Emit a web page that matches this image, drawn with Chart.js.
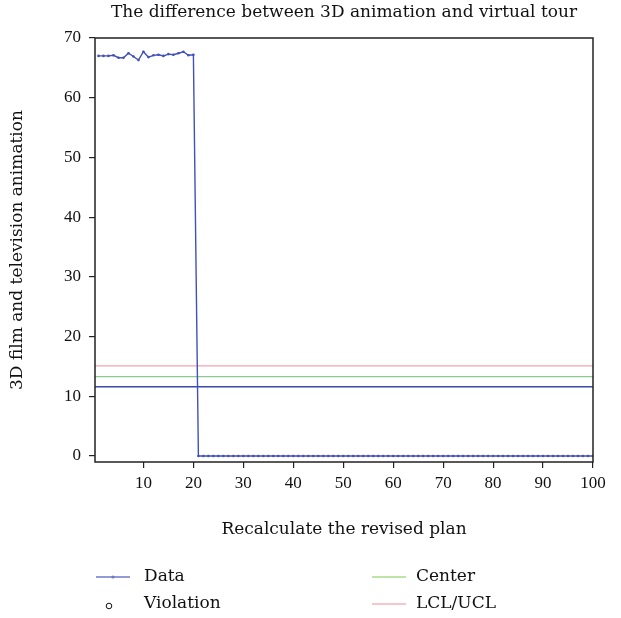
<!DOCTYPE html>
<html>
<head>
<meta charset="utf-8">
<script src="https://cdn.jsdelivr.net/npm/chart.js@4/dist/chart.umd.min.js"></script>
<style>
  html, body { margin: 0; padding: 0; background: #fff; }
  #wrap { width: 621px; height: 618px; }
</style>
</head>
<body>
<div id="wrap"><canvas id="chart" width="621" height="618"></canvas></div>
<script>
// chart values
const runs = Array.from({ length: 100 }, (_, i) => i + 1);
const dataValues = [
  67.0, 67.0, 67.0, 67.1, 66.7, 66.7, 67.45, 66.9, 66.3, 67.7,
  66.8, 67.1, 67.2, 67.0, 67.3, 67.2, 67.45, 67.7, 67.1, 67.2,
  0, 0, 0, 0, 0, 0, 0, 0, 0, 0,
  0, 0, 0, 0, 0, 0, 0, 0, 0, 0,
  0, 0, 0, 0, 0, 0, 0, 0, 0, 0,
  0, 0, 0, 0, 0, 0, 0, 0, 0, 0,
  0, 0, 0, 0, 0, 0, 0, 0, 0, 0,
  0, 0, 0, 0, 0, 0, 0, 0, 0, 0,
  0, 0, 0, 0, 0, 0, 0, 0, 0, 0,
  0, 0, 0, 0, 0, 0, 0, 0, 0, 0
];
const lowerLine = 11.6;
const centerLine = 13.3;
const upperLine = 15.1;
const xTicks = [10, 20, 30, 40, 50, 60, 70, 80, 90, 100];
const yTicks = [0, 10, 20, 30, 40, 50, 60, 70];
const xRange = [0.3, 100];
const yRange = [-1, 70];

const chartTitle = 'The difference between 3D animation and virtual tour';
const xTitle = 'Recalculate the revised plan';
const yTitle = '3D film and television animation';
const legendItems = [
  { label: 'Data', kind: 'line-dot', color: '#6f78c8', col: 0, row: 0 },
  { label: 'Violation', kind: 'circle', color: '#111', col: 0, row: 1 },
  { label: 'Center', kind: 'line', color: '#a6dc8a', col: 1, row: 0 },
  { label: 'LCL/UCL', kind: 'line', color: '#f4b3bd', col: 1, row: 1 }
];

const textFont = '"DejaVu Serif", "Liberation Serif", serif';
const tickFont = '"Liberation Serif", "DejaVu Serif", serif';
const textSize = 17;
const blue = '#4150bb';

function hLine(value) {
  return [{ x: xRange[0], y: value }, { x: xRange[1], y: value }];
}

// title, frame and legend drawn on the canvas
const decorations = {
  id: 'decorations',
  afterDatasetsDraw(chart) {
    const ctx = chart.ctx;
    const a = chart.chartArea;
    ctx.save();
    ctx.strokeStyle = '#222';
    ctx.lineWidth = 1.5;
    ctx.strokeRect(a.left, a.top, a.right - a.left, a.bottom - a.top);
    ctx.restore();
  },
  afterDraw(chart) {
    const ctx = chart.ctx;
    const a = chart.chartArea;
    ctx.save();
    ctx.fillStyle = '#111';
    ctx.font = textSize + 'px ' + textFont;
    ctx.textAlign = 'center';
    ctx.textBaseline = 'middle';
    ctx.fillText(chartTitle, (a.left + a.right) / 2, 13);

    ctx.textAlign = 'left';
    legendItems.forEach(item => {
      const x0 = item.col === 0 ? 96 : 372;
      const y = 577 + item.row * 27;
      if (item.kind === 'circle') {
        ctx.strokeStyle = item.color;
        ctx.lineWidth = 1;
        ctx.beginPath();
        ctx.arc(x0 + 13, y + 2, 2.8, 0, Math.PI * 2);
        ctx.stroke();
      } else {
        ctx.strokeStyle = item.color;
        ctx.lineWidth = 1.5;
        ctx.beginPath();
        ctx.moveTo(x0, y);
        ctx.lineTo(x0 + 34, y);
        ctx.stroke();
        if (item.kind === 'line-dot') {
          ctx.fillStyle = item.color;
          ctx.beginPath();
          ctx.arc(x0 + 17, y, 1.6, 0, Math.PI * 2);
          ctx.fill();
        }
      }
      ctx.fillStyle = '#111';
      ctx.fillText(item.label, x0 + (item.col === 0 ? 48 : 44), y);
    });
    ctx.restore();
  }
};

new Chart(document.getElementById('chart'), {
  type: 'line',
  data: {
    datasets: [
      {
        label: 'Data',
        data: runs.map((r, i) => ({ x: r, y: dataValues[i] })),
        borderColor: blue,
        backgroundColor: blue,
        borderWidth: 1.4,
        pointRadius: 1.3,
        pointBorderWidth: 0,
        tension: 0
      },
      {
        label: 'LCL/UCL',
        data: hLine(upperLine),
        borderColor: '#f0a4b2',
        borderWidth: 1.3,
        pointRadius: 0
      },
      {
        label: 'Center',
        data: hLine(centerLine),
        borderColor: '#8cc98a',
        borderWidth: 1.3,
        pointRadius: 0
      },
      {
        label: 'Lower',
        data: hLine(lowerLine),
        borderColor: '#3a4aa8',
        borderWidth: 1.3,
        pointRadius: 0
      }
    ]
  },
  options: {
    responsive: false,
    animation: false,
    layout: { padding: { top: 38, right: 28, bottom: 70, left: 0 } },
    plugins: {
      legend: { display: false },
      tooltip: { enabled: false },
      title: { display: false }
    },
    scales: {
      x: {
        type: 'linear',
        min: xRange[0],
        max: xRange[1],
        afterBuildTicks: scale => { scale.ticks = xTicks.map(v => ({ value: v })); },
        afterFit: scale => { scale.height = 86; },
        grid: { drawOnChartArea: false, drawTicks: true, tickLength: 6, color: '#222', lineWidth: 1.2 },
        border: { display: false },
        ticks: { color: '#111', padding: 5, maxRotation: 0, autoSkip: false, font: { family: tickFont, size: 17 } },
        title: { display: true, text: xTitle, color: '#111', padding: { top: 0, bottom: 8 }, font: { family: textFont, size: textSize } }
      },
      y: {
        type: 'linear',
        min: yRange[0],
        max: yRange[1],
        afterBuildTicks: scale => { scale.ticks = yTicks.map(v => ({ value: v })); },
        afterFit: scale => { scale.width = 95; },
        grid: { drawOnChartArea: false, drawTicks: true, tickLength: 6, color: '#222', lineWidth: 1.2 },
        border: { display: false },
        ticks: { color: '#111', padding: 8, autoSkip: false, font: { family: tickFont, size: 17 } },
        title: { display: true, text: yTitle, color: '#111', padding: { top: 7, bottom: 0 }, font: { family: textFont, size: textSize } }
      }
    }
  },
  plugins: [decorations]
});
</script>
</body>
</html>
